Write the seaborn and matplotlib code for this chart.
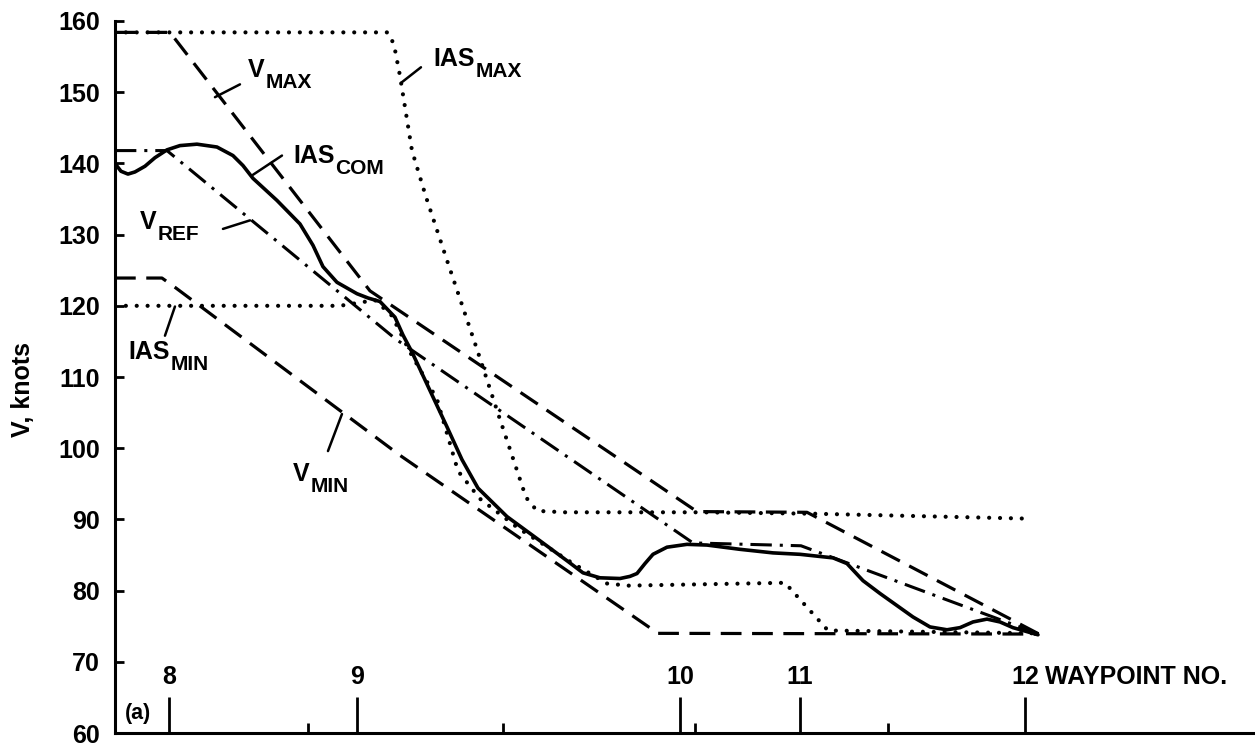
import seaborn as sns
import matplotlib.pyplot as plt

# waypoints along the path (distance units), labelled and intermediate
waypoint_pos = [5.4, 24.2, 56.5, 68.5, 91.0]
waypoint_labels = ["8", "9", "10", "11", "12"]
minor_pos = [19.3, 38.8, 58.0, 77.3]
v_ticks = [60, 70, 80, 90, 100, 110, 120, 130, 140, 150, 160]

# speed schedules, knots
vmax_x = [0.0, 5.5, 25.5, 58.2, 69.2, 92.4]
vmax_v = [158.4, 158.4, 122.1, 91.1, 91.0, 73.9]

vref_x = [0.0, 5.2, 28.1, 57.8, 68.6, 92.4]
vref_v = [141.8, 141.8, 115.3, 86.7, 86.3, 73.9]

vmin_x = [0.0, 4.7, 6.0, 28.5, 54.3, 92.4]
vmin_v = [123.9, 123.9, 122.6, 99.0, 74.0, 73.9]

iasmax_x = [0.0, 27.3, 27.9, 28.5, 29.7, 31.1, 33.2, 36.2, 38.3, 41.1, 42.2, 45.0, 58.5, 70.0, 91.6]
iasmax_v = [158.4, 158.4, 156.7, 152.3, 141.8, 135.3, 126.4, 113.9, 104.9, 93.1, 91.2, 91.0, 91.0, 90.8, 90.1]

iasmin_x = [0.0, 22.5, 26.0, 27.7, 29.5, 32.2, 34.3, 36.5, 40.3, 45.7, 49.2, 51.3, 67.0, 71.3, 92.4]
iasmin_v = [120.0, 120.0, 120.8, 118.6, 113.5, 106.9, 96.8, 92.9, 88.8, 83.9, 81.0, 80.7, 81.1, 74.4, 74.0]

iascom_x = [0.0, 0.6, 1.3, 2.0, 3.0, 4.0, 5.2, 6.5, 8.2, 10.2, 11.8, 12.8, 13.8, 16.2, 18.5,
            19.8, 20.8, 22.2, 23.2, 24.2, 25.3, 26.5, 28.0, 28.8, 29.7, 31.5, 33.2, 34.7, 36.3, 39.2,
            42.5, 45.2, 46.8, 48.5, 50.5, 51.5, 52.2, 53.0, 53.8, 54.5, 55.2, 57.2, 59.2, 62.5, 65.8,
            68.5, 71.8, 73.2, 74.8, 76.5, 78.2, 79.8, 81.5, 83.2, 84.5, 85.8, 87.2, 88.5, 89.8, 92.3]
iascom_v = [140.0, 138.9, 138.5, 138.8, 139.6, 140.8, 141.9, 142.5, 142.7, 142.3, 141.1, 139.7, 137.9, 134.8, 131.5,
            128.5, 125.5, 123.3, 122.5, 121.7, 121.1, 120.6, 118.4, 115.9, 113.5, 108.1, 103.0, 98.4, 94.4, 90.4,
            87.0, 84.2, 82.5, 81.8, 81.7, 82.0, 82.4, 83.8, 85.1, 85.6, 86.1, 86.5, 86.4, 85.8, 85.3,
            85.1, 84.6, 83.8, 81.4, 79.6, 77.9, 76.3, 74.9, 74.5, 74.8, 75.6, 76.0, 75.6, 74.8, 73.8]

sns.set_theme(style="white")
plt.rcParams["font.family"] = ["Liberation Sans", "DejaVu Sans"]
for key in ["text.color", "axes.labelcolor", "xtick.color", "ytick.color", "axes.edgecolor"]:
    plt.rcParams[key] = "black"

fig = plt.figure(figsize=(12.55, 7.47), dpi=100)
ax = fig.add_axes([0.0916, 0.0187, 0.9084, 0.9532])

dashed = (0, (6.5, 3.3))
dashdot = (0, (7, 2.6, 1, 2.6))
dotted = (0, (0.01, 2.6))

sns.lineplot(x=vmax_x, y=vmax_v, ax=ax, color="black", lw=2.3, linestyle=dashed, estimator=None, sort=False)
sns.lineplot(x=vmin_x, y=vmin_v, ax=ax, color="black", lw=2.3, linestyle=dashed, estimator=None, sort=False)
sns.lineplot(x=vref_x, y=vref_v, ax=ax, color="black", lw=2.2, linestyle=dashdot, estimator=None, sort=False)
sns.lineplot(x=iasmax_x, y=iasmax_v, ax=ax, color="black", lw=3.0, linestyle=dotted,
             dash_capstyle="round", estimator=None, sort=False)
sns.lineplot(x=iasmin_x, y=iasmin_v, ax=ax, color="black", lw=3.0, linestyle=dotted,
             dash_capstyle="round", estimator=None, sort=False)
sns.lineplot(x=iascom_x, y=iascom_v, ax=ax, color="black", lw=2.6, estimator=None, sort=False)

# curve labels (main text, subscript, baseline position) with short leader lines
labels = [
    ("V", "MAX", (13.3, 152.2), (12.5, 151.1), (10.0, 149.3)),
    ("IAS", "MAX", (31.8, 153.7), (30.6, 153.5), (28.6, 151.3)),
    ("IAS", "COM", (17.8, 140.0), (16.7, 141.1), (13.8, 138.4)),
    ("V", "REF", (2.5, 130.8), (10.8, 130.8), (13.5, 132.0)),
    ("IAS", "MIN", (1.3, 112.5), (5.0, 115.8), (6.0, 119.9)),
    ("V", "MIN", (17.8, 95.4), (21.3, 99.6), (22.7, 104.8)),
]
for main, sub, pos, p0, p1 in labels:
    t = ax.text(pos[0], pos[1], main, fontsize=18, fontweight="bold", ha="left", va="baseline")
    ax.annotate(sub, xy=(1.0, 0.0), xycoords=t, xytext=(0.5, 6.5), textcoords="offset points",
                fontsize=15, fontweight="bold", ha="left", va="top")
    ax.plot([p0[0], p1[0]], [p0[1], p1[1]], color="black", lw=1.8)

ax.set_xlim(0, 114)
ax.set_ylim(60, 160)
ax.set_yticks(v_ticks)
ax.set_yticklabels([str(v) for v in v_ticks], fontsize=18, fontweight="bold")
ax.set_xticks(waypoint_pos)
ax.set_xticklabels(waypoint_labels, fontsize=18, fontweight="bold")
ax.set_xticks(minor_pos, minor=True)
ax.tick_params(axis="y", left=True, direction="in", length=6.5, width=2, pad=11)
ax.tick_params(axis="x", which="major", bottom=True, direction="in", length=26, width=2, pad=-49)
ax.tick_params(axis="x", which="minor", bottom=True, direction="in", length=7, width=2)

ax.text(93.0, 67.8, "WAYPOINT NO.", fontsize=18, fontweight="bold", ha="left", va="center")
ax.text(2.3, 62.8, "(a)", fontsize=15.5, fontweight="bold", ha="center", va="center")

ax.set_ylabel("V, knots", fontsize=18, fontweight="bold", va="center")
ax.yaxis.set_label_coords(-0.0807, 0.483)

for side in ["top", "right"]:
    ax.spines[side].set_visible(False)
ax.spines["left"].set_linewidth(2.2)
ax.spines["bottom"].set_linewidth(2.2)
ax.spines["left"].set_bounds(60, 160)

fig.savefig("out.png", dpi=100, facecolor="white")
